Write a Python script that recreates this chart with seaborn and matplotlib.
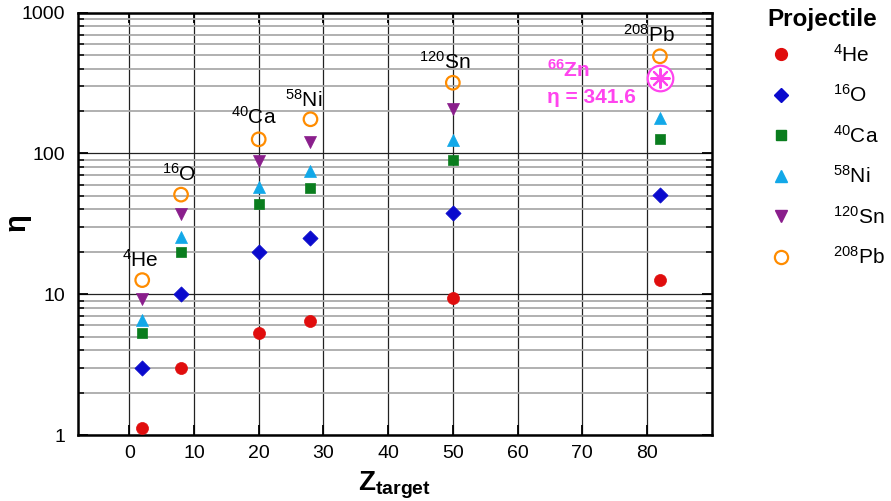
import numpy as np
import pandas as pd
import matplotlib
matplotlib.use("Agg")
import matplotlib.pyplot as plt
import seaborn as sns
from matplotlib.lines import Line2D
from matplotlib.ticker import LogLocator, NullFormatter, FixedLocator

# ---- data ----
z_target = [2, 8, 20, 28, 50, 82]
target_labels = [r"$^{4}$He", r"$^{16}$O", r"$^{40}$Ca", r"$^{58}$Ni", r"$^{120}$Sn", r"$^{208}$Pb"]
projectiles = ["4He", "16O", "40Ca", "58Ni", "120Sn", "208Pb"]
proj_labels = [r"$^{4}$He", r"$^{16}$O", r"$^{40}$Ca", r"$^{58}$Ni", r"$^{120}$Sn", r"$^{208}$Pb"]
eta_He = [1.12, 3.0, 5.3, 6.5, 9.4, 12.7]
eta_O = [3.0, 10.1, 19.8, 25.2, 37.5, 51]
eta_Ca = [5.3, 19.9, 43.5, 56.6, 90, 126]
eta_Ni = [6.6, 25.5, 57.5, 75.5, 124, 178]
eta_Sn = [9.3, 37, 88.5, 121, 208, np.nan]
eta_Pb = [12.6, 51, 126, 175, 318, 490]
zn_z = 82
zn_eta = 341.6

colors = ["#e00d0d", "#0a0acd", "#0a7d1e", "#12a8e8", "#8a1e8c", "#ff8c00"]
markers = ["o", "D", "s", "^", "v", "o"]
sizes = [75, 60, 60, 75, 75, 95]

df = pd.DataFrame({
    "Z": z_target * 6,
    "eta": eta_He + eta_O + eta_Ca + eta_Ni + eta_Sn + eta_Pb,
    "proj": sum([[p] * len(z_target) for p in projectiles], []),
})

sns.set_theme(style="white")
plt.rcParams["font.family"] = ["Liberation Sans", "DejaVu Sans"]
plt.rcParams["mathtext.fontset"] = "custom"
plt.rcParams["mathtext.rm"] = "Liberation Sans"
plt.rcParams["mathtext.it"] = "Liberation Sans:italic"
plt.rcParams["mathtext.bf"] = "Liberation Sans:bold"
plt.rcParams["text.color"] = "black"
plt.rcParams["axes.labelcolor"] = "black"
plt.rcParams["xtick.color"] = "black"
plt.rcParams["ytick.color"] = "black"

fig = plt.figure(figsize=(8.91, 5.01), dpi=100)
ax = fig.add_axes([77.5 / 891, 1 - 435 / 501, (711.7 - 77.5) / 891, (435 - 12.7) / 501])
ax.set_yscale("log")

for i, p in enumerate(projectiles):
    sub = df[df["proj"] == p]
    sns.scatterplot(data=sub, x="Z", y="eta", ax=ax, marker=markers[i], color=colors[i],
                    s=sizes[i], edgecolor=colors[i], linewidth=0.5 if i < 5 else 1.6,
                    zorder=5, legend=False)
    if i == 5:
        coll = ax.collections[-1]
        coll.set_facecolor("none")
        coll.set_edgecolor(colors[i])
        coll.set_linewidth(1.6)

# 66Zn marker
zn_color = "#ff44ee"
ax.scatter([zn_z], [zn_eta], s=340, facecolor="white", edgecolor=zn_color, linewidth=1.6, zorder=6)
ax.scatter([zn_z], [zn_eta], s=180, marker=(8, 2, 0), color=zn_color, linewidth=1.5, zorder=7)
ax.text(64.5, 392, r"$^{\mathbf{66}}$Zn", color=zn_color, fontsize=15, fontweight="bold",
        ha="left", va="center")
ax.text(64.5, 248, "η = 341.6", color=zn_color, fontsize=15, fontweight="bold",
        ha="left", va="center")

# target labels
label_pos = [(1.7, 17.5), (7.7, 72), (19.3, 182), (27.0, 240), (48.8, 447), (80.3, 695)]
for (lx, ly), t in zip(label_pos, target_labels):
    ax.text(lx, ly, t, fontsize=15, ha="center", va="center", color="black", zorder=8)

ax.set_xlim(-8.0, 90.0)
ax.set_ylim(1, 1000)
ax.xaxis.set_major_locator(FixedLocator([0, 10, 20, 30, 40, 50, 60, 70, 80]))
ax.yaxis.set_minor_locator(LogLocator(base=10, subs=np.arange(2, 10), numticks=20))
ax.yaxis.set_minor_formatter(NullFormatter())
ax.set_yticks([1, 10, 100, 1000])
ax.set_yticklabels(["1", "10", "100", "1000"])

ax.grid(True, which="major", axis="both", color="#222222", linewidth=0.9, zorder=0)
ax.grid(True, which="minor", axis="y", color="#aaaaaa", linewidth=1.3, zorder=0)
ax.set_axisbelow(True)

ax.tick_params(axis="both", which="both", direction="in", top=True, right=True,
               bottom=True, left=True, colors="black", labelsize=14)
ax.tick_params(axis="both", which="major", length=7, width=1.3)
ax.tick_params(axis="y", which="minor", length=4, width=1.1)
ax.tick_params(axis="y", which="major", pad=9)
ax.tick_params(axis="x", which="major", pad=7)
for s in ax.spines.values():
    s.set_color("black")
    s.set_linewidth(1.8)

ax.set_xlabel(r"Z$_{\mathbf{target}}$", fontsize=20, fontweight="bold", labelpad=6, color="black")
ax.set_ylabel("η", fontsize=21, fontweight="bold", color="black")
ax.yaxis.set_label_coords(-(77.5 - 31) / (711.7 - 77.5), 0.505)

handles = []
for i, lab in enumerate(proj_labels):
    if i == 5:
        h = Line2D([], [], linestyle="none", marker="o", markersize=9.5, markerfacecolor="none",
                   markeredgecolor=colors[i], markeredgewidth=1.6, label=lab)
    else:
        ms = {"o": 8.5, "D": 7.5, "s": 7.5, "^": 9, "v": 9}[markers[i]]
        h = Line2D([], [], linestyle="none", marker=markers[i], markersize=ms, color=colors[i], label=lab)
    handles.append(h)

leg = fig.legend(handles=handles, title="Projectile", loc="upper left",
                 bbox_to_anchor=(752 / 891, 1 - 0 / 501), frameon=False, fontsize=15,
                 title_fontsize=17.5, labelspacing=0.89, handletextpad=1.5, borderaxespad=0)
leg.get_title().set_fontweight("bold")
leg.get_title().set_color("black")
for t in leg.get_texts():
    t.set_color("black")
leg._legend_box.align = "center"
leg._legend_box.sep = 9

fig.savefig("out.png", dpi=100)
